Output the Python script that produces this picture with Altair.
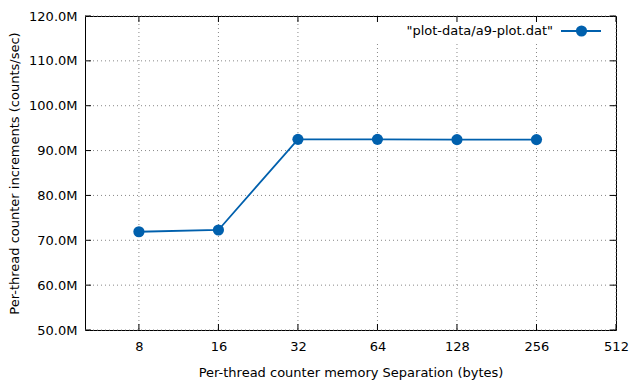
import altair as alt
import pandas as pd

# ---- data ----
separation = [8, 16, 32, 64, 128, 256]
rate = [71.9e6, 72.3e6, 92.5e6, 92.5e6, 92.45e6, 92.45e6]
x_ticks = [8, 16, 32, 64, 128, 256, 512]
y_ticks = [50e6, 60e6, 70e6, 80e6, 90e6, 100e6, 110e6, 120e6]
legend_label = ['"plot-data/a9-plot.dat"']
x_title = "Per-thread counter memory Separation (bytes)"
y_title = "Per-thread counter increments (counts/sec)"

BLUE = "#0060ad"
FONT = "DejaVu Sans"
FS = 13
W, H = 531, 314
GRID = "#888888"

df = pd.DataFrame({"sep": separation, "rate": rate})
xt = pd.DataFrame({"sep": x_ticks})
yt = pd.DataFrame({"rate": y_ticks})
leg = pd.DataFrame({"label": legend_label})

xscale = alt.Scale(type="log", base=2, domain=[5, 512])
yscale = alt.Scale(domain=[50e6, 120e6])

xaxis = alt.Axis(
    values=x_ticks, format="d", title=x_title, grid=False, ticks=False, domain=False,
    labelPadding=10, titlePadding=13, labelFont=FONT, titleFont=FONT,
    labelFontSize=FS, titleFontSize=FS, titleFontWeight="normal",
    labelColor="black", titleColor="black", labelFlush=False,
)
yaxis = alt.Axis(
    values=y_ticks, labelExpr="format(datum.value/1e6,'.1f')+'M'", title=y_title,
    grid=False, ticks=False, domain=False, labelPadding=8, titlePadding=7,
    labelFont=FONT, titleFont=FONT, labelFontSize=FS, titleFontSize=FS,
    titleFontWeight="normal", labelColor="black", titleColor="black", labelFlush=False,
)

X = alt.X("sep:Q", scale=xscale, axis=xaxis)
Y = alt.Y("rate:Q", scale=yscale, axis=yaxis)

# dotted grid
grid_x = alt.Chart(xt).mark_rule(color=GRID, strokeDash=[1, 3], strokeWidth=1).encode(
    x=X, y=alt.value(0), y2=alt.value(H)
)
grid_y = alt.Chart(yt).mark_rule(color=GRID, strokeDash=[1, 3], strokeWidth=1).encode(
    y=Y, x=alt.value(0), x2=alt.value(W)
)

# opaque key box
keybox = alt.Chart(leg).mark_rect(fill="white", opacity=1, strokeWidth=0).encode(
    x=alt.value(260), x2=alt.value(W - 1), y=alt.value(1), y2=alt.value(27)
)

tick_b = alt.Chart(xt).mark_rule(color="black").encode(x=X, y=alt.value(H), y2=alt.value(H - 6))
tick_t = alt.Chart(xt).mark_rule(color="black").encode(x=X, y=alt.value(0), y2=alt.value(6))
tick_l = alt.Chart(yt).mark_rule(color="black").encode(y=Y, x=alt.value(0), x2=alt.value(6))
tick_r = alt.Chart(yt).mark_rule(color="black").encode(y=Y, x=alt.value(W), x2=alt.value(W - 6))

line = alt.Chart(df).mark_line(color=BLUE, strokeWidth=1.8).encode(x=X, y=Y)
pts = alt.Chart(df).mark_circle(color=BLUE, size=125, opacity=1).encode(x=X, y=Y)

leg_text = alt.Chart(leg).mark_text(
    align="right", baseline="middle", font=FONT, fontSize=FS, color="black"
).encode(text="label:N", x=alt.value(468), y=alt.value(15))
leg_line = alt.Chart(leg).mark_rule(color=BLUE, strokeWidth=1.8).encode(
    x=alt.value(476), x2=alt.value(516), y=alt.value(15)
)
leg_pt = alt.Chart(leg).mark_circle(color=BLUE, size=125, opacity=1).encode(
    x=alt.value(496.5), y=alt.value(15)
)

chart = alt.layer(
    grid_x, grid_y, keybox, tick_b, tick_t, tick_l, tick_r, line, pts,
    leg_text, leg_line, leg_pt
).properties(
    width=W, height=H,
    autosize=alt.AutoSizeParams(type="none"),
    padding={"left": 77, "top": 8, "right": 16, "bottom": 54},
).configure(background="white").configure_view(stroke="black", strokeWidth=1)

chart.save("out.html", embed_options={"renderer": "svg", "actions": False})
